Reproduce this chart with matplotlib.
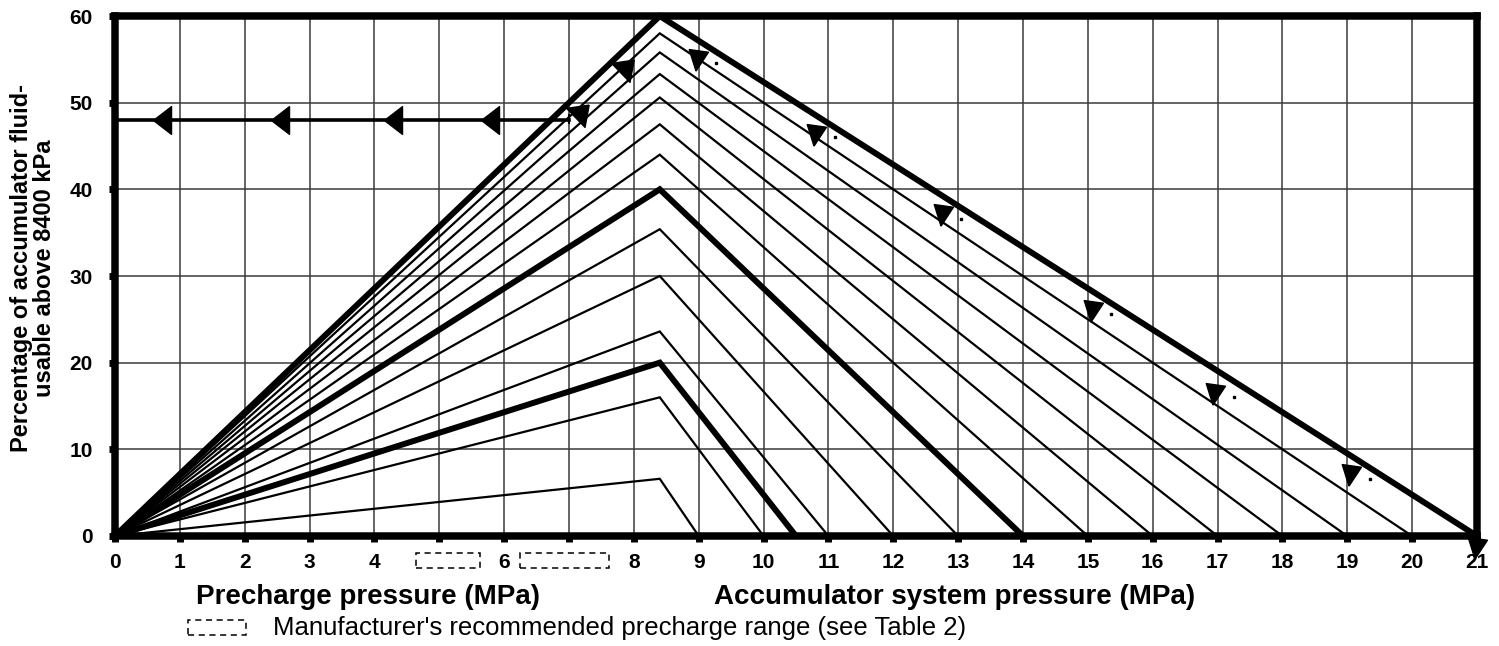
import numpy as np
import matplotlib
matplotlib.use('Agg')
import matplotlib.pyplot as plt
from matplotlib.markers import MarkerStyle
from matplotlib.transforms import Affine2D
from matplotlib.patches import Rectangle

plt.rcParams['font.family'] = ['Liberation Sans', 'DejaVu Sans']

# ---------------- data ----------------
peak_x = 8.4
end_x = [9, 10, 10.5, 11, 12, 13, 14, 15, 16, 17, 18, 19, 20, 21]
peak_y = [6.6, 16.0, 20.0, 23.6, 30.0, 35.4, 40.0, 44.0, 47.5, 50.6, 53.3, 55.8, 58.0, 60.0]
thick_ends = [10.5, 14, 21]

# worked example: 48 % line read back to precharge axis
flow_y = 48
flow_x_end = 7.0
left_arrow_x = [0.72, 2.54, 4.29, 5.78]
up_arrow_x = [7.2, 7.9]
up_arrow_y = [49.0, 54.2]
down_arrow_x = [8.98, 10.8, 12.75, 15.06, 16.95, 19.05, 20.98]
down_arrow_y = [54.9, 46.3, 37.0, 26.0, 16.4, 7.0, -1.4]
dot_x = [9.27, 11.1, 13.05, 15.35, 17.25, 19.35]
dot_y = [54.6, 46.0, 36.6, 25.6, 16.0, 6.6]

x_ticks = list(range(0, 22))
x_tick_labels = [str(i) for i in x_ticks]
x_tick_labels[5] = ''
x_tick_labels[7] = ''
y_ticks = [0, 10, 20, 30, 40, 50, 60]
precharge_boxes = [(4.64, 5.63), (6.24, 7.62)]

fig = plt.figure(figsize=(14.99, 6.46), dpi=100)
ax = fig.add_axes([0.0767, 0.1703, 0.9086, 0.8049])

# grid
for xv in range(1, 21):
    ax.axvline(xv, color='#3a3a3a', lw=1.1, zorder=1)
for yv in y_ticks[1:-1]:
    ax.axhline(yv, color='#3a3a3a', lw=1.1, zorder=1)

# family of curves
for ex, py in zip(end_x, peak_y):
    lw = 4.3 if ex in thick_ends else 1.6
    ax.plot([0, peak_x, ex], [0, py, 0], color='black', lw=lw,
            solid_joinstyle='miter', solid_capstyle='butt', zorder=3, clip_on=False)

# worked example line
ax.plot([0, flow_x_end], [flow_y, flow_y], color='black', lw=2.6, zorder=4)
ax.plot([flow_x_end, flow_x_end], [flow_y - 0.4, flow_y + 0.6], color='black', lw=1.5, zorder=4)

left_head = MarkerStyle([(-0.65, 0), (0.65, 1), (0.65, -1), (-0.65, 0)])
ax.plot(left_arrow_x, [flow_y] * len(left_arrow_x), ls='none', marker=left_head,
        markersize=20, color='black', zorder=5)

up_head = MarkerStyle([(0.7, 0), (-0.7, 1), (-0.7, -1), (0.7, 0)],
                      transform=Affine2D().rotate_deg(44))
ax.plot(up_arrow_x, up_arrow_y, ls='none', marker=up_head, markersize=19,
        color='black', zorder=5)

down_head = MarkerStyle([(0, -1), (-0.9, 0.9), (0.9, 0.9), (0, -1)],
                        transform=Affine2D().rotate_deg(-8))
ax.plot(down_arrow_x, down_arrow_y, ls='none', marker=down_head, markersize=15.5,
        color='black', zorder=5, clip_on=False)
ax.plot(dot_x, dot_y, ls='none', marker='s', markersize=1.6, color='black', zorder=5)

ax.set_xlim(0, 21)
ax.set_ylim(0, 60)
for s in ax.spines.values():
    s.set_linewidth(5.4)
    s.set_zorder(6)

ax.set_xticks(x_ticks)
ax.set_xticklabels(x_tick_labels, fontsize=15, fontweight='bold')
ax.set_yticks(y_ticks)
ax.set_yticklabels([str(v) for v in y_ticks], fontsize=15, fontweight='bold')
ax.tick_params(axis='both', direction='out', length=4, width=5)
ax.tick_params(axis='x', pad=8)
ax.tick_params(axis='y', pad=12)

# dashed boxes replacing the 5 and 7 labels
for x0, x1 in precharge_boxes:
    ax.add_patch(Rectangle((x0, -3.7), x1 - x0, 1.75, fill=False, ls=(0, (4, 3)),
                           lw=1.1, ec='black', clip_on=False))

fig.text(33 / 1499, 1 - 268 / 646,
         "Percentage of accumulator fluid-\nusable above 8400 kPa",
         fontsize=17, fontweight='bold', rotation=90, ha='center', va='center',
         multialignment='center', linespacing=1.05)

fig.text(368 / 1499, 1 - 597 / 646, 'Precharge pressure (MPa)', fontsize=20,
         fontweight='bold', ha='center', va='center')
fig.text(955 / 1499, 1 - 597 / 646, 'Accumulator system pressure (MPa)', fontsize=20,
         fontweight='bold', ha='center', va='center')

fig.patches.append(Rectangle((188 / 1499, 1 - 635 / 646), 58 / 1499, 15 / 646,
                             transform=fig.transFigure, fill=False, ls=(0, (4, 3)),
                             lw=1.1, ec='black'))
fig.text(273 / 1499, 1 - 628 / 646,
         "Manufacturer's recommended precharge range (see Table 2)",
         fontsize=18.5, ha='left', va='center')

fig.savefig('out.png', dpi=100)
